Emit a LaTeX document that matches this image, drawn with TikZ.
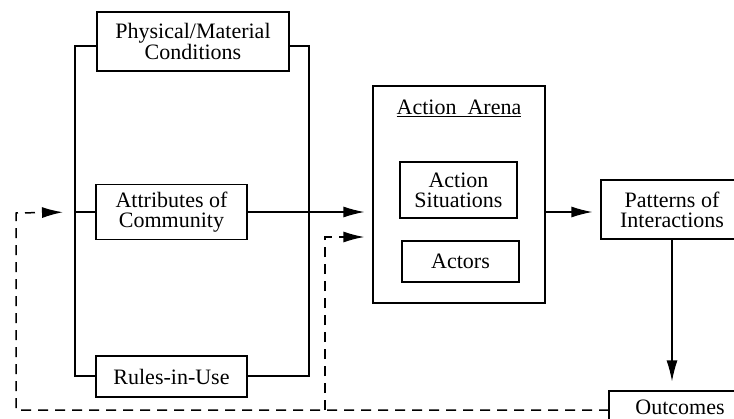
\documentclass[tikz,border=0pt]{standalone}
\usepackage{fontspec}
\setmainfont{Liberation Serif}
\usetikzlibrary{arrows.meta}
\begin{document}
\begin{tikzpicture}[x=1pt,y=-1pt,
  box/.style={draw, line width=1.2pt, inner sep=0pt, align=center,
    font=\fontsize{22}{20}\selectfont},
  lbl/.style={inner sep=0pt, align=center, font=\fontsize{22}{20}\selectfont},
  conn/.style={line width=1.2pt},
  tip/.style={-{Latex[length=21pt,width=11pt]}},
  arr/.style={conn, tip, shorten >=8pt},
  fb/.style={line width=1.5pt, dash pattern=on 10pt off 7pt}]
\useasboundingbox (0,0) rectangle (734,418);
\clip (0,0) rectangle (734,418);
% nodes
\node[box, minimum width=192, minimum height=59] (phys) at (193,41.5) {Physical/Material\\Conditions};
\node[box, minimum width=151, minimum height=55] (attr) at (171.5,212) {Attributes of\\Community};
\node[box, minimum width=151, minimum height=41] (rules) at (171.5,376.5) {Rules-in-Use};
\node[box, minimum width=172, minimum height=217] (arena) at (459,194.5) {};
\node[lbl] (title) at (459,108) {\underline{Action~~Arena}};
\node[box, minimum width=117, minimum height=56] (sit) at (458.5,190) {Action\\Situations};
\node[box, minimum width=117, minimum height=41] (actors) at (460.5,261.5) {Actors};
\node[box, minimum width=142, minimum height=59] (pat) at (672,209.5) {Patterns of\\Interactions};
\node[box, minimum width=142, minimum height=32] (out) at (680,407) {Outcomes};
% bracket coordinates
\coordinate (lT) at (75,46);
\coordinate (lB) at (75,376);
\coordinate (rT) at (309,46);
\coordinate (rB) at (309,376);
\coordinate (fbBL) at (16,410);
\coordinate (fbTL) at (16,213);
\coordinate (fbR) at (609,410);
\coordinate (fbM) at (325,410);
\coordinate (fbMT) at (325,237);
% brackets
\draw[conn] (lT -| phys.west) -- (lT) -- (lB) -- (lB -| rules.west);
\draw[conn] (rT -| phys.east) -- (rT) -- (rB) -- (rB -| rules.east);
\draw[conn] (lT |- attr.west) -- (attr.west);
% arrows
\draw[arr] (attr.east) -- (arena.west |- attr.east);
\draw[arr] (arena.east |- attr.east) -- (pat.west |- attr.east);
\draw[arr, shorten >=9pt] (pat.south) -- (pat.south |- out.north);
% feedback
\draw[fb, tip, shorten >=12pt] (fbR) -- (fbBL) -- (fbTL) -- (lT |- attr.west);
\draw[fb, tip, shorten >=8pt] (fbM) -- (fbMT) -- (arena.west |- fbMT);
\end{tikzpicture}
\end{document}
